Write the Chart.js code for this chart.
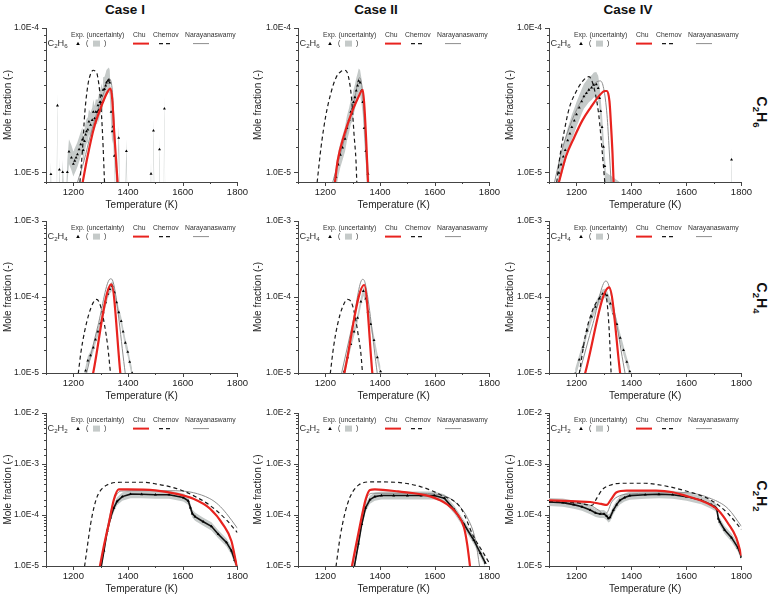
<!DOCTYPE html>
<html>
<head>
<meta charset="utf-8">
<script src="https://cdn.jsdelivr.net/npm/chart.js@4.4.0/dist/chart.umd.min.js"></script>
<style>
  body { margin: 0; background: #fff; width: 770px; height: 597px; position: relative; overflow: hidden;
         font-family: "Liberation Sans", Arial, sans-serif; }
  canvas { position: absolute; }
  .case { position: absolute; top: 2px; font-weight: bold; font-size: 13.5px; line-height: 15px;
          transform: translateX(-50%); color: #111; white-space: nowrap; }
  .sp { position: absolute; font-weight: bold; font-size: 14px; line-height: 16px; color: #111; white-space: nowrap;
        transform: translate(-50%, -50%) rotate(90deg); }
  .sp sub { font-size: 9.5px; }
</style>
</head>
<body>
<div class="case" style="left:125px">Case I</div>
<div class="case" style="left:376px">Case II</div>
<div class="case" style="left:628px">Case IV</div>
<div class="sp" style="left:759px;top:112px">C<sub>2</sub>H<sub>6</sub></div>
<div class="sp" style="left:759px;top:298px">C<sub>2</sub>H<sub>4</sub></div>
<div class="sp" style="left:759px;top:496px">C<sub>2</sub>H<sub>2</sub></div>

<script>
// ---- data: [temperature K, mole fraction] ----
// C2H6
const caseI_C2H6_exp = [[1110,2e-6],[1118,9.7e-6],[1124,2e-6],[1136,2e-6],[1142,2.9e-5],[1146,2e-6],[1149,1.04e-5],[1155,3e-6],[1161,1.0e-5],[1170,4e-6],[1178,1.0e-5],[1184,1.39e-5],[1193,1.26e-5],[1200,1.14e-5],[1205,1.2e-5],[1210,1.26e-5],[1215,1.33e-5],[1221,1.44e-5],[1227,1.56e-5],[1233,1.68e-5],[1236,1.42e-5],[1241,1.64e-5],[1245,1.82e-5],[1248,1.92e-5],[1253,1.97e-5],[1257,2.24e-5],[1263,2.13e-5],[1269,2.3e-5],[1273,2.62e-5],[1278,2.36e-5],[1282,2.62e-5],[1287,2.62e-5],[1290,2.91e-5],[1293,2.69e-5],[1297,3.06e-5],[1299,3.06e-5],[1303,3.4e-5],[1307,3.06e-5],[1309,3.73e-5],[1314,3.77e-5],[1318,3.98e-5],[1321,4.19e-5],[1326,4.3e-5],[1330,4.37e-5],[1333,4.19e-5],[1338,2.62e-5],[1342,1.92e-5],[1345,2.07e-5],[1350,1.3e-5],[1356,4e-6],[1366,1.73e-5],[1375,3e-6],[1385,2e-6],[1394,1.4e-5],[1402,2e-6],[1478,2e-6],[1484,9.75e-6],[1488,2e-6],[1493,1.94e-5],[1499,2e-6],[1510,2e-6],[1515,1.44e-5],[1520,2e-6],[1528,2e-6],[1533,2.76e-5],[1538,2e-6]];
const caseI_C2H6_chu = [[1234,8.5e-6],[1251,1.26e-5],[1275,2.02e-5],[1299,2.76e-5],[1324,3.58e-5],[1336,3.81e-5],[1342,3.23e-5],[1350,1.82e-5],[1358,1.08e-5],[1362,8.5e-6]];
const caseI_C2H6_chernov = [[1224,8.5e-6],[1233,1.4e-5],[1242,2.6e-5],[1253,4.0e-5],[1263,4.8e-5],[1273,5.1e-5],[1281,5.0e-5],[1287,4.8e-5],[1299,3.2e-5],[1307,1.8e-5],[1314,8.5e-6]];
const caseI_C2H6_naray = [[1215,8.5e-6],[1239,1.2e-5],[1263,1.82e-5],[1287,2.62e-5],[1312,3.58e-5],[1330,4.46e-5],[1342,3.77e-5],[1350,2.02e-5],[1358,8.5e-6]];

const caseII_C2H6_exp = [[1232,7e-6],[1239,9.25e-6],[1247,1.13e-5],[1255,1.32e-5],[1263,1.48e-5],[1272,1.7e-5],[1279,2.02e-5],[1287,2.3e-5],[1293,2.62e-5],[1299,2.76e-5],[1303,3.06e-5],[1308,3.31e-5],[1313,3.68e-5],[1318,3.98e-5],[1322,4.3e-5],[1327,4.19e-5],[1332,3.68e-5],[1337,3.06e-5],[1342,2.02e-5],[1348,1.4e-5],[1356,9.75e-6],[1362,7e-6]];
const caseII_C2H6_chu = [[1235,8.5e-6],[1245,1.2e-5],[1269,1.82e-5],[1293,2.49e-5],[1318,3.23e-5],[1337,3.73e-5],[1344,2.62e-5],[1350,1.56e-5],[1356,8.5e-6]];
const caseII_C2H6_chernov = [[1170,8.5e-6],[1184,1.48e-5],[1202,2.49e-5],[1221,3.58e-5],[1239,4.53e-5],[1257,5.0e-5],[1272,5.1e-5],[1284,4.65e-5],[1296,3.23e-5],[1305,1.82e-5],[1312,1.2e-5],[1315,8.5e-6]];
const caseII_C2H6_naray = [[1227,8.5e-6],[1251,1.26e-5],[1281,2.02e-5],[1305,3.06e-5],[1325,4.53e-5],[1336,3.58e-5],[1345,1.82e-5],[1354,8.5e-6]];

const caseIV_C2H6_exp = [[1130,7e-6],[1136,9.9e-6],[1144,1.13e-5],[1152,1.28e-5],[1159,1.42e-5],[1168,1.66e-5],[1176,1.85e-5],[1183,2.05e-5],[1192,2.28e-5],[1200,2.52e-5],[1210,2.8e-5],[1219,3.1e-5],[1227,3.36e-5],[1236,3.54e-5],[1245,3.73e-5],[1255,3.86e-5],[1263,4.03e-5],[1272,4.07e-5],[1279,3.83e-5],[1284,3.27e-5],[1288,2.65e-5],[1293,2.05e-5],[1298,1.5e-5],[1303,1.1e-5],[1307,8.2e-6],[1760,2e-6],[1764,1.22e-5],[1768,2e-6]];
const caseIV_C2H6_chu = [[1136,8.5e-6],[1162,1.29e-5],[1192,1.75e-5],[1221,2.28e-5],[1251,2.8e-5],[1281,3.36e-5],[1303,3.66e-5],[1311,3.66e-5],[1320,3.1e-5],[1326,2.05e-5],[1331,1.35e-5],[1335,8.5e-6]];
const caseIV_C2H6_chernov = [[1128,8.5e-6],[1138,1.22e-5],[1156,1.95e-5],[1174,2.8e-5],[1198,3.6e-5],[1221,4.25e-5],[1245,4.6e-5],[1263,3.9e-5],[1281,2.5e-5],[1293,1.43e-5],[1303,8.5e-6]];
const caseIV_C2H6_naray = [[1120,8.5e-6],[1144,1.35e-5],[1174,2.05e-5],[1210,2.95e-5],[1245,3.7e-5],[1275,4.25e-5],[1287,4.3e-5],[1299,3.8e-5],[1311,2.5e-5],[1319,1.43e-5],[1326,8.5e-6]];

// C2H4
const caseI_C2H4_exp = [[1240,9e-6],[1245,1.07e-5],[1253,1.45e-5],[1263,1.7e-5],[1273,2.15e-5],[1281,2.75e-5],[1290,3.5e-5],[1299,4.5e-5],[1309,6.3e-5],[1318,8.5e-5],[1326,1.1e-4],[1333,1.27e-4],[1342,1.4e-4],[1350,1.15e-4],[1358,8.5e-5],[1366,6.3e-5],[1375,4.8e-5],[1382,3.5e-5],[1390,2.5e-5],[1399,1.9e-5],[1406,1.4e-5],[1415,1.0e-5]];
const caseI_C2H4_chu = [[1272,9.8e-6],[1339,1.47e-4],[1372,9.8e-6]];
const caseI_C2H4_chernov = [[1218,9.8e-6],[1227,1.8e-5],[1241,3.5e-5],[1257,6e-5],[1273,8.5e-5],[1285,9.3e-5],[1299,7.7e-5],[1314,4.3e-5],[1326,2.2e-5],[1336,9.8e-6]];
const caseI_C2H4_naray = [[1248,9.8e-6],[1290,4.2e-5],[1336,1.74e-4],[1345,1.6e-4],[1390,9.8e-6]];

const caseII_C2H4_exp = [[1262,8e-6],[1269,1.05e-5],[1281,1.6e-5],[1293,2.4e-5],[1305,3.5e-5],[1318,5.3e-5],[1330,8.7e-5],[1339,1.2e-4],[1348,9.5e-5],[1356,6.4e-5],[1366,4.4e-5],[1378,2.7e-5],[1390,1.6e-5],[1402,1.05e-5]];
const caseII_C2H4_chu = [[1269,9.8e-6],[1342,1.44e-4],[1372,9.8e-6]];
const caseII_C2H4_chernov = [[1218,9.8e-6],[1230,2.2e-5],[1245,4.4e-5],[1263,7.4e-5],[1281,9.3e-5],[1293,8.8e-5],[1305,6.5e-5],[1320,3.2e-5],[1330,1.8e-5],[1336,9.8e-6]];
const caseII_C2H4_naray = [[1259,9.8e-6],[1300,4.5e-5],[1336,1.71e-4],[1345,1.55e-4],[1390,9.8e-6]];

const caseIV_C2H4_exp = [[1195,9.8e-6],[1210,1.5e-5],[1224,2.2e-5],[1239,3.6e-5],[1255,5.5e-5],[1269,7.4e-5],[1284,9.5e-5],[1295,1.1e-4],[1303,1.12e-4],[1311,1.05e-4],[1323,8.2e-5],[1335,6.1e-5],[1347,4.4e-5],[1359,2.9e-5],[1371,2e-5],[1383,1.4e-5],[1394,1.05e-5]];
const caseIV_C2H4_chu = [[1231,9.8e-6],[1319,1.34e-4],[1359,9.8e-6]];
const caseIV_C2H4_chernov = [[1210,9.8e-6],[1233,3.2e-5],[1257,6.5e-5],[1281,9.5e-5],[1303,1.1e-4],[1311,8.7e-5],[1319,3.6e-5],[1326,9.8e-6]];
const caseIV_C2H4_naray = [[1210,9.8e-6],[1260,4.5e-5],[1307,1.63e-4],[1318,1.4e-4],[1377,9.8e-6]];

// C2H2
const caseI_C2H2_exp = [[1302,9.8e-6],[1312,2e-5],[1324,4.9e-5],[1336,8.9e-5],[1348,1.38e-4],[1360,1.86e-4],[1379,2.3e-4],[1409,2.57e-4],[1450,2.55e-4],[1500,2.5e-4],[1550,2.5e-4],[1602,2.2e-4],[1620,1.9e-4],[1628,1.4e-4],[1635,1.07e-4],[1645,9.3e-5],[1675,7.4e-5],[1705,6e-5],[1730,4.2e-5],[1760,2.9e-5],[1778,2e-5],[1790,1.3e-5],[1800,9.5e-6]];
const caseI_C2H2_chu = [[1297,9.8e-6],[1311,2.38e-5],[1330,6.9e-5],[1348,2.0e-4],[1366,3.2e-4],[1400,3.2e-4],[1500,3.05e-4],[1578,2.6e-4],[1639,2.08e-4],[1699,1.34e-4],[1748,6.4e-5],[1778,3.1e-5],[1796,1.1e-5],[1800,9e-6]];
const caseI_C2H2_chernov = [[1241,9.8e-6],[1251,2.38e-5],[1263,6.6e-5],[1275,1.38e-4],[1287,2.3e-4],[1306,3.33e-4],[1336,4.15e-4],[1373,4.4e-4],[1450,4.4e-4],[1500,4.1e-4],[1578,3.3e-4],[1639,2.4e-4],[1699,1.55e-4],[1760,8e-5],[1800,4.5e-5]];
const caseI_C2H2_naray = [[1302,9.8e-6],[1315,3e-5],[1330,8e-5],[1345,1.7e-4],[1360,2.6e-4],[1375,2.95e-4],[1450,3.0e-4],[1550,3.0e-4],[1600,2.95e-4],[1639,2.75e-4],[1699,2.1e-4],[1730,1.6e-4],[1760,1.07e-4],[1800,5.5e-5]];

const caseII_C2H2_exp = [[1306,9.8e-6],[1321,2.75e-5],[1333,6.6e-5],[1347,1.38e-4],[1363,2.0e-4],[1381,2.3e-4],[1405,2.41e-4],[1450,2.41e-4],[1500,2.41e-4],[1550,2.41e-4],[1598,2.41e-4],[1635,2.14e-4],[1671,1.28e-4],[1707,6.6e-5],[1743,3.2e-5],[1767,1.78e-5],[1785,1.15e-5]];
const caseII_C2H2_chu = [[1297,9.8e-6],[1311,2.38e-5],[1330,7.7e-5],[1347,2.0e-4],[1363,3.1e-4],[1381,3.2e-4],[1466,2.9e-4],[1586,2.3e-4],[1647,1.6e-4],[1683,1.03e-4],[1707,5.7e-5],[1719,2.6e-5],[1729,9.8e-6]];
const caseII_C2H2_chernov = [[1239,9.8e-6],[1254,3.7e-5],[1272,1.11e-4],[1291,2.3e-4],[1321,3.86e-4],[1369,4.47e-4],[1453,4.4e-4],[1550,3.58e-4],[1622,2.48e-4],[1695,1.38e-4],[1743,3.7e-5],[1773,2.0e-5],[1800,1.13e-5]];
const caseII_C2H2_naray = [[1299,9.8e-6],[1315,2.75e-5],[1333,7.7e-5],[1354,2.3e-4],[1375,2.67e-4],[1526,2.67e-4],[1622,2.48e-4],[1671,1.86e-4],[1719,8.9e-5],[1749,3.2e-5],[1764,9.8e-6]];

const caseIV_C2H2_exp = [[1100,1.8e-4],[1150,1.75e-4],[1190,1.6e-4],[1220,1.45e-4],[1250,1.25e-4],[1270,1.1e-4],[1286,1.05e-4],[1300,1.05e-4],[1310,9.5e-5],[1316,8.6e-5],[1322,9e-5],[1334,1.25e-4],[1346,1.6e-4],[1358,1.94e-4],[1375,2.2e-4],[1394,2.4e-4],[1450,2.5e-4],[1500,2.55e-4],[1550,2.5e-4],[1600,2.3e-4],[1654,1.95e-4],[1690,1.6e-4],[1703,1.45e-4],[1710,1.34e-4],[1716,8.5e-5],[1721,7.4e-5],[1739,5.1e-5],[1764,3.6e-5],[1787,2.3e-5],[1800,1.5e-5]];
const caseIV_C2H2_chu = [[1100,1.95e-4],[1200,1.85e-4],[1250,1.8e-4],[1290,1.65e-4],[1310,1.58e-4],[1325,2.0e-4],[1346,2.8e-4],[1382,3.0e-4],[1490,3.0e-4],[1550,2.8e-4],[1595,2.4e-4],[1650,1.95e-4],[1691,1.55e-4],[1715,1.25e-4],[1751,6.9e-5],[1781,3.6e-5],[1800,1.6e-5]];
const caseIV_C2H2_chernov = [[1100,1.85e-4],[1200,1.75e-4],[1256,1.55e-4],[1275,2.2e-4],[1295,3.2e-4],[1322,3.85e-4],[1360,4.2e-4],[1450,4.2e-4],[1490,4.0e-4],[1595,3.0e-4],[1691,1.93e-4],[1751,1.07e-4],[1800,5.2e-5]];
const caseIV_C2H2_naray = [[1100,1.8e-4],[1200,1.7e-4],[1250,1.55e-4],[1280,1.25e-4],[1298,1.07e-4],[1310,1.1e-4],[1328,1.8e-4],[1358,2.4e-4],[1400,2.6e-4],[1500,2.7e-4],[1595,2.75e-4],[1691,2.08e-4],[1751,1.34e-4],[1800,6e-5]];

// relative experimental uncertainty per species
const uncC2H6 = 0.22;
const uncC2H4 = 0.15;
const uncC2H2 = 0.2;

// ---- layout ----
const colLeft = [46, 298, 549];
const colRight = [241, 493, 745];
const rowTop = [24, 217, 409];
const rowBottom = [182, 373, 566];
const yTitlePad = [2, 0, 1.5];

const rows = [
  { species: "C2H6", yMin: 8.55e-6, yMax: 1e-4, unc: uncC2H6, expLine: false },
  { species: "C2H4", yMin: 1e-5, yMax: 1e-3, unc: uncC2H4, expLine: false },
  { species: "C2H2", yMin: 1e-5, yMax: 1e-2, unc: uncC2H2, expLine: true },
];

const panels = [
  [0, 0, caseI_C2H6_exp, caseI_C2H6_chu, caseI_C2H6_chernov, caseI_C2H6_naray],
  [0, 1, caseII_C2H6_exp, caseII_C2H6_chu, caseII_C2H6_chernov, caseII_C2H6_naray],
  [0, 2, caseIV_C2H6_exp, caseIV_C2H6_chu, caseIV_C2H6_chernov, caseIV_C2H6_naray],
  [1, 0, caseI_C2H4_exp, caseI_C2H4_chu, caseI_C2H4_chernov, caseI_C2H4_naray],
  [1, 1, caseII_C2H4_exp, caseII_C2H4_chu, caseII_C2H4_chernov, caseII_C2H4_naray],
  [1, 2, caseIV_C2H4_exp, caseIV_C2H4_chu, caseIV_C2H4_chernov, caseIV_C2H4_naray],
  [2, 0, caseI_C2H2_exp, caseI_C2H2_chu, caseI_C2H2_chernov, caseI_C2H2_naray],
  [2, 1, caseII_C2H2_exp, caseII_C2H2_chu, caseII_C2H2_chernov, caseII_C2H2_naray],
  [2, 2, caseIV_C2H2_exp, caseIV_C2H2_chu, caseIV_C2H2_chernov, caseIV_C2H2_naray],
];

const FONT = '"Liberation Sans", Arial, sans-serif';
const bandColor = "#c5cac9";
const chuColor = "#e8231f";
const narayColor = "#8e8e8e";
const axisColor = "#444";

Chart.defaults.font.family = FONT;

const isDecade = (v) => {
  const l = Math.log10(v);
  return Math.abs(l - Math.round(l)) < 1e-6;
};

const toXY = (arr) => arr.map((p) => ({ x: p[0], y: p[1] }));

// draws small tick marks + the in-plot legend
const panelDecor = {
  id: "panelDecor",
  afterDraw(chart, args, opts) {
    const { ctx, chartArea: a } = chart;
    const xs = chart.scales.x;
    const ys = chart.scales.y;
    ctx.save();

    // tick marks (major longer than minor)
    ctx.strokeStyle = axisColor;
    ctx.lineWidth = 1;
    ctx.beginPath();
    ys.ticks.forEach((t) => {
      if (t.value < ys.min || t.value > ys.max) return;
      const p = Math.round(ys.getPixelForValue(t.value)) + 0.5;
      const len = isDecade(t.value) ? 4 : 2;
      ctx.moveTo(a.left, p);
      ctx.lineTo(a.left - len, p);
    });
    xs.ticks.forEach((t) => {
      const p = Math.round(xs.getPixelForValue(t.value)) + 0.5;
      const len = t.value % 200 === 0 ? 4 : 2;
      ctx.moveTo(p, a.bottom);
      ctx.lineTo(p, a.bottom + len);
    });
    ctx.stroke();

    // legend
    const y1 = a.top + 7;
    const y2 = a.top + 15.5;
    const L = a.left;
    ctx.fillStyle = "#333";
    ctx.textBaseline = "middle";
    ctx.font = "6.8px " + FONT;
    ctx.fillText("Exp. (uncertainty)", L + 25, y1);
    ctx.fillText("Chu", L + 87, y1);
    ctx.fillText("Chernov", L + 107, y1);
    ctx.fillText("Narayanaswamy", L + 139, y1);

    // triangle marker
    ctx.fillStyle = "#000";
    ctx.beginPath();
    ctx.moveTo(L + 32, y2 - 1.8);
    ctx.lineTo(L + 33.8, y2 + 1.4);
    ctx.lineTo(L + 30.2, y2 + 1.4);
    ctx.closePath();
    ctx.fill();
    ctx.fillStyle = "#333";
    ctx.fillText("(", L + 40, y2);
    ctx.fillText(")", L + 58, y2);
    ctx.fillStyle = bandColor;
    ctx.fillRect(L + 47, y2 - 3, 7, 6);

    ctx.lineWidth = 2;
    ctx.strokeStyle = chuColor;
    ctx.beginPath();
    ctx.moveTo(L + 87, y2);
    ctx.lineTo(L + 103, y2);
    ctx.stroke();

    ctx.lineWidth = 1.2;
    ctx.strokeStyle = "#1a1a1a";
    ctx.setLineDash([4, 3]);
    ctx.beginPath();
    ctx.moveTo(L + 113, y2);
    ctx.lineTo(L + 126, y2);
    ctx.stroke();
    ctx.setLineDash([]);

    ctx.lineWidth = 1;
    ctx.strokeStyle = narayColor;
    ctx.beginPath();
    ctx.moveTo(L + 147, y2);
    ctx.lineTo(L + 163, y2);
    ctx.stroke();

    // species label with subscripts
    let x = L + 1.5;
    ctx.fillStyle = "#333";
    for (const ch of opts.species) {
      const sub = /[0-9]/.test(ch);
      ctx.font = (sub ? "6.2px " : "9.2px ") + FONT;
      ctx.fillText(ch, x, sub ? y2 + 2.2 : y2);
      x += ctx.measureText(ch).width;
    }
    ctx.restore();
  },
};

panels.forEach(([r, c, exp, chu, chernov, naray]) => {
  const row = rows[r];
  const W = colRight[c] - colLeft[c];
  const H = rowBottom[r] - rowTop[r];
  const canvas = document.createElement("canvas");
  canvas.width = W + 58;
  canvas.height = H + 42;
  canvas.style.left = colLeft[c] - 46 + "px";
  canvas.style.top = rowTop[r] - 8 + "px";
  canvas.style.width = W + 58 + "px";
  canvas.style.height = H + 42 + "px";
  document.body.appendChild(canvas);

  const upper = exp.map((p) => ({ x: p[0], y: p[1] * (1 + row.unc) }));
  const lower = exp.map((p) => ({ x: p[0], y: p[1] / (1 + row.unc) }));

  new Chart(canvas, {
    type: "line",
    data: {
      datasets: [
        { data: upper, fill: 1, backgroundColor: bandColor, borderColor: "rgba(0,0,0,0)", borderWidth: 0, pointRadius: 0, order: 6 },
        { data: lower, fill: false, borderColor: "rgba(0,0,0,0)", borderWidth: 0, pointRadius: 0, order: 6 },
        { data: toXY(naray), borderColor: narayColor, borderWidth: 1, pointRadius: 0, order: 4, cubicInterpolationMode: "monotone" },
        { data: toXY(chernov), borderColor: "#1a1a1a", borderWidth: 1.2, borderDash: [4, 3], pointRadius: 0, order: 3, cubicInterpolationMode: "monotone" },
        { data: toXY(exp), showLine: row.expLine, borderColor: "#111", borderWidth: 1.6, pointStyle: "triangle", pointRadius: 1.7, pointBackgroundColor: "#000", pointBorderWidth: 0, order: 2 },
        { data: toXY(chu), borderColor: chuColor, borderWidth: 2.2, pointRadius: 0, order: 1, cubicInterpolationMode: "monotone" },
      ],
    },
    options: {
      responsive: false,
      animation: false,
      devicePixelRatio: 1,
      layout: { padding: { top: 8, right: 12, left: 0, bottom: 0 } },
      plugins: { legend: { display: false }, tooltip: { enabled: false }, panelDecor: { species: row.species } },
      scales: {
        x: {
          type: "linear",
          min: 1100,
          max: 1800,
          ticks: { stepSize: 100, autoSkip: false, maxRotation: 0, padding: 5, color: "#222", font: { size: 9.5 },
                   callback: (v) => (v % 200 === 0 ? String(v) : "") },
          grid: { display: false, drawTicks: false },
          border: { display: true, color: axisColor, width: 1 },
          title: { display: true, text: "Temperature (K)", color: "#222", font: { size: 10 }, padding: { top: 0, bottom: 5 } },
          afterFit: (s) => { s.height = 34; },
        },
        y: {
          type: "logarithmic",
          min: row.yMin,
          max: row.yMax,
          ticks: { autoSkip: false, padding: 7, color: "#222", font: { size: 8.5 },
                   callback: (v) => (isDecade(v) ? "1.0E" + Math.round(Math.log10(v)) : "") },
          grid: { display: false, drawTicks: false },
          border: { display: true, color: axisColor, width: 1 },
          title: { display: true, text: "Mole fraction (-)", color: "#222", font: { size: 10 }, padding: { top: yTitlePad[c], bottom: 0 } },
          afterFit: (s) => { s.width = 46; },
        },
      },
    },
    plugins: [panelDecor],
  });
});
</script>
</body>
</html>
